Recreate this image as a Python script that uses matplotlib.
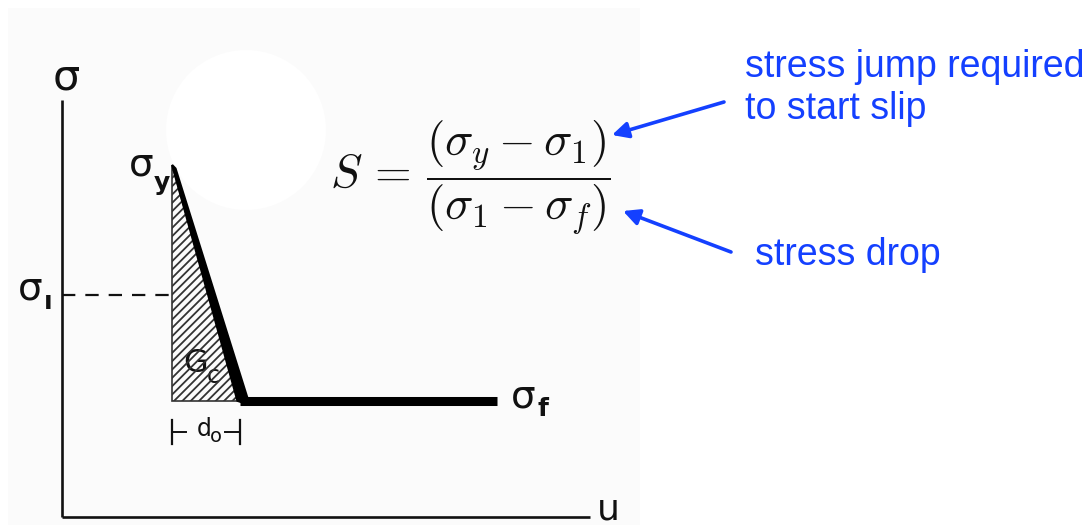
import matplotlib
matplotlib.use("Agg")
import matplotlib.pyplot as plt
from matplotlib.patches import Polygon, Circle, Rectangle

# Slip-weakening friction law (normalised units)
sigma_y = 10.0          # yield (peak) strength
sigma_1 = 6.3           # initial stress
sigma_f = 3.3           # residual (sliding) friction
u_peak = 1.62           # slip at which weakening starts (offset from the axis)
d_0 = 1.0               # critical slip-weakening distance
u_end = 6.4             # end of the residual branch drawn
u_axis_max = 7.76
sigma_axis_max = 11.85
bracket_level = 2.41    # height of the d_0 dimension bracket

plt.rcParams["hatch.linewidth"] = 1.3
plt.rcParams["mathtext.fontset"] = "cm"

W, H = 1089, 525
fig = plt.figure(figsize=(W / 100, H / 100), dpi=100)
fig.patch.set_facecolor("white")

# page layer in pixel units (y downwards) for the scanned panel and annotations
bg = fig.add_axes([0, 0, 1, 1], zorder=0)
bg.set_xlim(0, W)
bg.set_ylim(H, 0)
bg.axis("off")
bg.add_patch(Rectangle((8, 8), 632, 520, facecolor="#fbfbfb", edgecolor="none"))
bg.add_patch(Circle((246, 130), 80, facecolor="white", edgecolor="none"))

# diagram layer in stress / slip units
ax = fig.add_axes([0, 0, 1, 1], zorder=1)
ax.patch.set_alpha(0)
px_u, px_s, x0, y0 = 68.0, 35.2, 62, 517
ax.set_xlim(-x0 / px_u, (W - x0) / px_u)
ax.set_ylim(-(H - y0) / px_s, y0 / px_s)
ax.axis("off")

# axes of the diagram
ax.plot([0, 0], [0, sigma_axis_max], color="#111111", lw=1.9, solid_capstyle="butt")
ax.plot([0, u_axis_max], [0, 0], color="#111111", lw=1.9, solid_capstyle="butt")

# fracture energy G_c: hatched triangle under the weakening branch
tri = Polygon([(u_peak, sigma_y), (u_peak, sigma_f), (u_peak + d_0, sigma_f)],
              closed=True, facecolor="none", edgecolor="#333333", lw=1.2,
              hatch="////")
ax.add_patch(tri)

# initial stress level
ax.plot([0, u_peak], [sigma_1, sigma_1], color="#111111", lw=1.6,
        dashes=(6, 4.5))

# strength profile: peak, linear weakening over d_0, then constant residual
prof_u = [u_peak, u_peak + d_0, u_end]
prof_s = [sigma_y, sigma_f, sigma_f]
wedge = Polygon([(prof_u[0], prof_s[0]),
                 (prof_u[1] - 0.04, prof_s[1]),
                 (prof_u[1] + 0.14, prof_s[1] - 0.12),
                 (prof_u[0] + 0.05, prof_s[0] - 0.1)],
                closed=True, facecolor="black", edgecolor="black", lw=1.5)
ax.add_patch(wedge)
ax.plot(prof_u[1:], prof_s[1:], color="black", lw=6.5, solid_capstyle="butt")

# d_0 dimension bracket
tick = 0.35
for uu in (u_peak, u_peak + d_0):
    ax.plot([uu, uu], [bracket_level - tick, bracket_level + tick], color="#111111", lw=1.6)
ax.plot([u_peak, u_peak + 0.2], [bracket_level, bracket_level], color="#111111", lw=1.4)
ax.plot([u_peak + d_0 - 0.22, u_peak + d_0], [bracket_level, bracket_level], color="#111111", lw=1.4)

sans = "DejaVu Sans"
lab = dict(color="#111111", family=sans, ha="center", va="center")
bg.text(66, 77, "σ", fontsize=31, **lab)
bg.text(141, 164, "σ", fontsize=28, **lab)
bg.text(162, 183, "y", fontsize=18, fontweight="bold", **lab)
bg.text(30, 288, "σ", fontsize=28, **lab)
bg.text(48, 302, "ı", fontsize=18, fontweight="bold", **lab)
bg.text(523, 396, "σ", fontsize=28, **lab)
bg.text(543, 409, "f", fontsize=18, fontweight="bold", **lab)
bg.text(196, 364, "G", fontsize=23,
        bbox=dict(facecolor="white", edgecolor="none", alpha=0.55, pad=0), **lab)
bg.text(213, 376, "c", fontsize=17, **lab)
bg.text(204, 429, "d", fontsize=17, **lab)
bg.text(216, 437, "o", fontsize=14, **lab)
bg.text(608, 509, "u", fontsize=26, **lab)

# stress ratio S
bg.text(470, 178, r"$S\, =\, \dfrac{(\sigma_y - \sigma_1)}{(\sigma_1 - \sigma_f)}$",
        fontsize=34, ha="center", va="center", color="#111111")

blue = "#1440ff"
arrow = dict(arrowstyle="-|>", color=blue, lw=2.6, mutation_scale=24,
             shrinkA=0, shrinkB=0)
bg.annotate("", xy=(612, 135), xytext=(724, 102), arrowprops=arrow)
bg.annotate("", xy=(623, 211), xytext=(731, 252), arrowprops=arrow)

bg.text(745, 88, "stress jump required\nto start slip", fontsize=27,
        family="Liberation Sans", color=blue, ha="left", va="center",
        linespacing=1.22)
bg.text(755, 255, "stress drop", fontsize=27, family="Liberation Sans",
        color=blue, ha="left", va="center")

fig.savefig("out.png", dpi=100)
